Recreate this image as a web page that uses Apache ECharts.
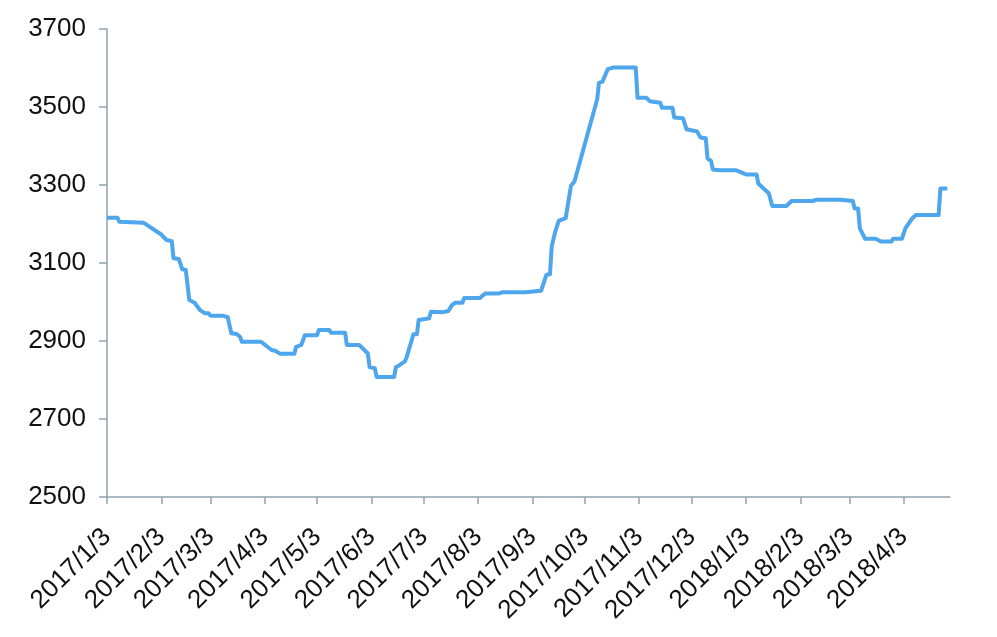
<!DOCTYPE html>
<html>
<head>
<meta charset="utf-8">
<script src="https://cdn.jsdelivr.net/npm/echarts@6/dist/echarts.min.js"></script>
<style>
html,body{margin:0;padding:0;background:#fff;}
#chart{width:997px;height:637px;}
</style>
</head>
<body>
<div id="chart"></div>
<script>
// Vertices of the price line (date, value)
const dates = [
'2017-01-03','2017-01-09','2017-01-10','2017-01-24','2017-02-03','2017-02-06','2017-02-09','2017-02-10','2017-02-13','2017-02-15',
'2017-02-17','2017-02-19','2017-02-22','2017-02-25','2017-02-28','2017-03-02','2017-03-03','2017-03-10','2017-03-13','2017-03-15',
'2017-03-18','2017-03-20','2017-03-21','2017-04-01','2017-04-07','2017-04-09','2017-04-12','2017-04-20','2017-04-21','2017-04-24',
'2017-04-26','2017-05-03','2017-05-04','2017-05-10','2017-05-11','2017-05-19','2017-05-20','2017-05-27','2017-05-30','2017-06-01',
'2017-06-02','2017-06-05','2017-06-06','2017-06-16','2017-06-17','2017-06-19','2017-06-22','2017-06-23','2017-06-27','2017-06-29',
'2017-06-30','2017-07-06','2017-07-07','2017-07-14','2017-07-17','2017-07-19','2017-07-21','2017-07-25','2017-07-26','2017-08-04',
'2017-08-07','2017-08-15','2017-08-17','2017-08-30','2017-08-31','2017-09-08','2017-09-11','2017-09-13','2017-09-14','2017-09-16',
'2017-09-18','2017-09-22','2017-09-25','2017-09-27','2017-10-10','2017-10-11','2017-10-13','2017-10-16','2017-10-19','2017-11-01',
'2017-11-02','2017-11-07','2017-11-09','2017-11-15','2017-11-16','2017-11-22','2017-11-23','2017-11-28','2017-11-30','2017-12-06',
'2017-12-08','2017-12-11','2017-12-12','2017-12-14','2017-12-15','2017-12-19','2017-12-20','2017-12-21','2017-12-28','2017-12-31',
'2018-01-03','2018-01-09','2018-01-10','2018-01-13','2018-01-16','2018-01-18','2018-01-26','2018-01-29','2018-02-10','2018-02-12',
'2018-02-26','2018-02-27','2018-03-05','2018-03-06','2018-03-08','2018-03-09','2018-03-12','2018-03-18','2018-03-21','2018-03-27',
'2018-03-28','2018-04-02','2018-04-04','2018-04-08','2018-04-10','2018-04-23','2018-04-24','2018-04-28'
];
const prices = [
3216,3216,3206,3203,3173,3159,3156,3112,3110,3084,
3082,3005,2998,2980,2971,2971,2965,2965,2961,2920,
2918,2911,2898,2898,2877,2875,2867,2867,2885,2890,
2915,2915,2928,2928,2921,2921,2890,2890,2877,2868,
2833,2830,2808,2808,2833,2838,2847,2856,2917,2917,
2954,2958,2975,2974,2977,2992,2998,2998,3010,3010,
3022,3022,3025,3025,3029,3029,3070,3071,3142,3180,
3208,3215,3298,3309,3520,3562,3565,3597,3601,3601,
3524,3524,3515,3511,3498,3498,3473,3471,3443,3437,
3422,3420,3368,3362,3340,3338,3334,3338,3338,3333,
3327,3327,3304,3291,3279,3246,3246,3259,3259,3262,
3262,3259,3259,3240,3240,3189,3162,3162,3155,3155,
3162,3162,3189,3215,3223,3223,3291,3291
];
const tickDates = [
'2017-01-03','2017-02-03','2017-03-03','2017-04-03','2017-05-03','2017-06-03','2017-07-03','2017-08-03',
'2017-09-03','2017-10-03','2017-11-03','2017-12-03','2018-01-03','2018-02-03','2018-03-03','2018-04-03'
];
const yTicks = [2500,2700,2900,3100,3300,3500,3700];

function ts(s){const p=s.split('-').map(Number);return Date.UTC(p[0],p[1]-1,p[2]);}
const seriesData = dates.map((d,i)=>[ts(d),prices[i]]);
const tickTs = tickDates.map(ts);
const xMin = ts('2017-01-03');
const xMax = ts('2018-04-29') + 12*3600*1000;

const chart = echarts.init(document.getElementById('chart'));
const font = 'Liberation Sans, Arial, sans-serif';
chart.setOption({
  animation:false,
  backgroundColor:'#fff',
  grid:{left:107,right:47,top:29,bottom:140,containLabel:false},
  xAxis:{
    type:'value',
    min:xMin,max:xMax,
    axisLine:{lineStyle:{color:'#8fa3ae',width:1.5}},
    axisTick:{show:true,length:7,lineStyle:{color:'#8fa3ae',width:1.5},customValues:tickTs},
    axisLabel:{
      customValues:tickTs,
      rotate:45,margin:36,
      color:'#111',fontSize:26,fontFamily:font,
      formatter:function(v){const d=new Date(v);return d.getUTCFullYear()+'/'+(d.getUTCMonth()+1)+'/'+d.getUTCDate();}
    },
    splitLine:{show:false}
  },
  yAxis:{
    type:'value',min:2500,max:3700,interval:200,
    axisLine:{show:true,lineStyle:{color:'#8fa3ae',width:1.5}},
    axisTick:{show:true,inside:false,length:8,lineStyle:{color:'#8fa3ae',width:1.5}},
    axisLabel:{color:'#111',fontSize:26,fontFamily:font,margin:21,
      formatter:function(v){return yTicks.indexOf(v)>=0?String(v):'';}},
    splitLine:{show:false}
  },
  series:[{
    type:'line',
    data:seriesData,
    showSymbol:false,
    symbol:'none',
    lineStyle:{color:'#4ea6ec',width:4,join:'round'},
    itemStyle:{color:'#4ea6ec'}
  }]
});
</script>
</body>
</html>
